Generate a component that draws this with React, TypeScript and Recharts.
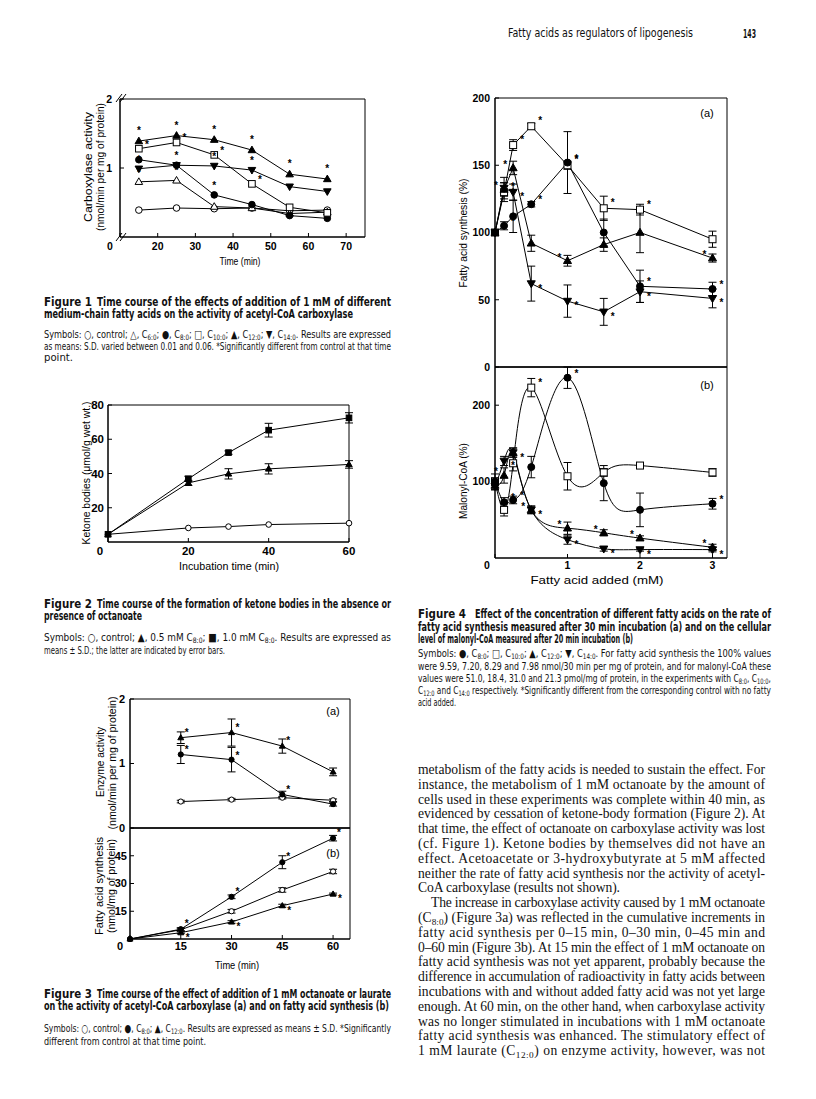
import React from "react";
import { LineChart, Line, XAxis, YAxis, ReferenceArea, ErrorBar } from "recharts";

// Figure 1: carboxylase activity vs time
const f1Time = [15, 25, 35, 45, 55, 65];
const f1Control = [0.39, 0.42, 0.41, 0.42, 0.38, 0.39];
const f1C6 = [0.8, 0.82, 0.44, 0.42, 0.34, 0.36];
const f1C8 = [1.12, 1.04, 0.61, 0.47, 0.31, 0.27];
const f1C10 = [1.28, 1.37, 1.19, 0.77, 0.43, 0.35];
const f1C12 = [1.39, 1.47, 1.41, 1.26, 0.91, 0.84];
const f1C14 = [0.99, 1.04, 1.03, 0.97, 0.73, 0.66];
const f1C6Sig = [1, 1, 0, 0, 0, 0];
const f1C8Sig = [1, 1, 1, 0, 0, 0];
const f1C10Sig = [1, 1, 1, 1, 0, 0];
const f1C12Sig = [1, 1, 1, 1, 1, 1];
const f1C14Sig = [1, 0, 1, 1, 1, 1];

// Figure 2: ketone bodies
const f2Time = [0, 20, 30, 40, 60];
const f2Control = [4.5, 8.2, 9.0, 10.2, 11.0];
const f2Half = [4.5, 34.5, 39.8, 42.7, 45.3];
const f2HalfErr = [0, 1.5, 3, 3, 2.2];
const f2Full = [4.5, 36.9, 52.2, 65.3, 72.5];
const f2FullErr = [0, 1.5, 1, 4, 3];

// Figure 3a: enzyme activity
const f3Time = [15, 30, 45, 60];
const f3aControl = [0.41, 0.44, 0.47, 0.43];
const f3aControlErr = [0.02, 0.02, 0.02, 0.02];
const f3aC8 = [1.14, 1.06, 0.52, 0.37];
const f3aC8Err = [0.14, 0.19, 0.05, 0.03];
const f3aC12 = [1.4, 1.48, 1.27, 0.87];
const f3aC12Err = [0.09, 0.21, 0.11, 0.06];
const f3aC8Sig = [1, 1, 1, 0];
const f3aC12Sig = [1, 1, 1, 0];

// Figure 3b: fatty acid synthesis
const f3bTime = [0, 15, 30, 45, 60];
const f3bControl = [0, 5.0, 15.0, 26.5, 36.5];
const f3bControlErr = [0, 0.8, 1, 1.2, 1.2];
const f3bC8 = [0, 5.3, 22.8, 41.5, 54.5];
const f3bC8Err = [0, 0.8, 1, 3.5, 1.5];
const f3bC12 = [0, 3.4, 9.2, 18.0, 24.3];
const f3bC12Err = [0, 0.5, 0.7, 0.8, 0.5];
const f3bC8Sig = [0, 1, 1, 1, 1];
const f3bC12Sig = [0, 1, 1, 1, 1];

// Figure 4: concentration (mM)
const f4Conc = [0, 0.125, 0.25, 0.5, 1, 1.5, 2, 3];
const f4aC8 = [100, 105, 112, 121, 152, 100, 60, 58];
const f4aC10 = [100, 130, 165, 179, 150, 118, 117, 95];
const f4aC12 = [100, 132, 148, 92, 79, 91, 100, 81];
const f4aC14 = [100, 133, 130, 62, 49, 41, 56, 51];
const f4aC8Err = [0, 3, 12, 2, 23, 10, 12, 5];
const f4aC10Err = [0, 7, 4, 2, 3, 9, 4, 6];
const f4aC12Err = [0, 5, 5, 6, 4, 5, 15, 3];
const f4aC14Err = [0, 8, 6, 13, 12, 10, 8, 7];
const f4aC8Sig = [0, 1, 0, 1, 1, 0, 1, 1];
const f4aC10Sig = [0, 1, 1, 1, 1, 1, 1, 0];
const f4aC12Sig = [0, 1, 1, 0, 1, 0, 0, 1];
const f4aC14Sig = [0, 1, 1, 1, 1, 1, 1, 1];

const f4bC8 = [100, 73, 76, 119, 236, 98, 63, 71];
const f4bC10 = [100, 63, 124, 223, 107, 112, 121, 112];
const f4bC12 = [95, 108, 138, 63, 39, 33, 26, 14];
const f4bC14 = [94, 127, 138, 63, 24, 12, 11, 11];
const f4bC8Err = [10, 6, 5, 14, 14, 23, 22, 7];
const f4bC10Err = [5, 8, 10, 12, 18, 5, 3, 5];
const f4bC12Err = [5, 10, 6, 5, 8, 4, 3, 4];
const f4bC14Err = [5, 6, 6, 5, 6, 3, 2, 3];
const f4bC8Sig = [0, 1, 1, 0, 1, 0, 0, 1];
const f4bC10Sig = [0, 1, 0, 1, 0, 0, 0, 0];
const f4bC12Sig = [0, 1, 0, 1, 1, 1, 1, 1];
const f4bC14Sig = [0, 1, 1, 1, 1, 1, 1, 1];

const SANS = "'Liberation Sans', Arial, sans-serif";
const NARROW = "'Liberation Sans Narrow', 'DejaVu Sans Condensed', 'Liberation Sans', sans-serif";
const SERIF = "'Liberation Serif', 'Times New Roman', serif";

const rows = (xs: number[], cols: Record<string, number[]>) =>
  xs.map((x, i) => {
    const o: Record<string, number> = { x };
    Object.keys(cols).forEach((k) => {
      o[k] = cols[k][i];
    });
    return o;
  });

type Kind = "circleOpen" | "circle" | "square" | "squareFilled" | "tri" | "triOpen" | "triDown";

function Marker({ kind, cx, cy, r }: { kind: Kind; cx: number; cy: number; r: number }) {
  const open = kind === "circleOpen" || kind === "square" || kind === "triOpen";
  const fill = open ? "#fff" : "#000";
  const common = { fill, stroke: "#000", strokeWidth: 1 };
  if (kind === "circle" || kind === "circleOpen") return <circle cx={cx} cy={cy} r={r} {...common} />;
  if (kind === "square" || kind === "squareFilled")
    return <rect x={cx - r} y={cy - r} width={2 * r} height={2 * r} {...common} />;
  if (kind === "triDown")
    return <polygon points={`${cx - r * 1.15},${cy - r * 0.8} ${cx + r * 1.15},${cy - r * 0.8} ${cx},${cy + r * 1.2}`} {...common} />;
  return <polygon points={`${cx},${cy - r * 1.2} ${cx - r * 1.15},${cy + r * 0.8} ${cx + r * 1.15},${cy + r * 0.8}`} {...common} />;
}

type Series = { key: string; kind: Kind; err?: string; sig?: string; star?: [number, number] };

const makeDot = (s: Series, r: number) => (p: any) => {
  const { cx, cy, payload, index } = p;
  if (cx == null || cy == null) return <g key={`${s.key}-${index}`} />;
  const st = s.sig && payload[s.sig] && s.star;
  return (
    <g key={`${s.key}-${index}`}>
      <Marker kind={s.kind} cx={cx} cy={cy} r={r} />
      {st ? (
        <text x={cx + st[0]} y={cy + st[1] + 4} fontSize={10} fontFamily={SANS} fontWeight={700} textAnchor="middle" fill="#000">
          *
        </text>
      ) : null}
    </g>
  );
};

const YW = 40;
const XH = 26;
const MT = 12;
const MR = 16;

type PanelProps = {
  plot: [number, number, number, number];
  data: Record<string, number>[];
  xDomain: [number, number];
  xTicks: number[];
  yDomain: [number, number];
  yTicks: number[];
  series: Series[];
  r: number;
  font: number;
  zeroShift?: number;
  xGap?: number;
  yGap?: number;
  hideX?: boolean;
  curve?: "linear" | "natural";
};

function Panel({ plot, data, xDomain, xTicks, yDomain, yTicks, series, r, font, zeroShift = 8, xGap = 4, yGap = 6, hideX, curve = "linear" }: PanelProps) {
  const [px, py, pw, ph] = plot;
  const xTick = (p: any) => {
    const v = p.payload.value;
    const first = v === xDomain[0];
    return (
      <text x={p.x - (first ? zeroShift : 0)} y={MT + ph + xGap} dy="0.71em" textAnchor="middle" fontSize={font} fontWeight={700} fontFamily={SANS} fill="#000">
        {first ? 0 : v}
      </text>
    );
  };
  const yTick = (p: any) => (
    <text x={YW - yGap} y={p.y} dy="0.36em" textAnchor="end" fontSize={font} fontWeight={700} fontFamily={SANS} fill="#000">
      {p.payload.value}
    </text>
  );
  return (
    <div style={{ position: "absolute", left: px - YW, top: py - MT }}>
      <LineChart width={pw + YW + MR} height={ph + MT + XH} data={data} margin={{ top: MT, right: MR, bottom: 0, left: 0 }}>
        <XAxis
          type="number"
          dataKey="x"
          domain={xDomain}
          ticks={xTicks}
          interval={0}
          height={XH}
          axisLine={{ stroke: "#000" }}
          tickLine={{ stroke: "#000" }}
          tickSize={-4}
          tick={hideX ? false : xTick}
        />
        <YAxis
          type="number"
          domain={yDomain}
          ticks={yTicks}
          interval={0}
          width={YW}
          axisLine={{ stroke: "#000" }}
          tickLine={{ stroke: "#000" }}
          tickSize={-4}
          tick={yTick}
        />
        <ReferenceArea x1={xDomain[0]} x2={xDomain[1]} y1={yDomain[0]} y2={yDomain[1]} fill="none" fillOpacity={0} stroke="#000" strokeWidth={1} />
        {series.map((s) => (
          <Line
            key={s.key}
            type={curve}
            dataKey={s.key}
            stroke="#000"
            strokeWidth={1}
            isAnimationActive={false}
            dot={makeDot(s, r)}
            activeDot={false}
          >
            {s.err ? <ErrorBar dataKey={s.err} width={4} stroke="#000" strokeWidth={1} direction="y" /> : null}
          </Line>
        ))}
      </LineChart>
    </div>
  );
}

type Part = string | { sub: string };
const S = (t: string): Part => ({ sub: t });

function Rich({ parts, size }: { parts: Part[]; size: number }) {
  let shifted = false;
  return (
    <>
      {parts.map((p, i) => {
        if (typeof p === "string") {
          const el = (
            <tspan key={i} dy={shifted ? -size * 0.22 : undefined}>
              {p}
            </tspan>
          );
          shifted = false;
          return el;
        }
        shifted = true;
        return (
          <tspan key={i} dy={size * 0.22} fontSize={size * 0.68}>
            {p.sub}
          </tspan>
        );
      })}
    </>
  );
}

type RowProps = { x: number; y: number; w?: number; size: number; weight?: number; family?: string; adjust?: string; parts: Part[] };
function TextRow({ x, y, w, size, weight = 400, family = NARROW, adjust = "spacingAndGlyphs", parts }: RowProps) {
  return (
    <text x={x} y={y} fontSize={size} fontWeight={weight} fontFamily={family} textLength={w} lengthAdjust={w ? adjust : undefined} fill="#111">
      <Rich parts={parts} size={size} />
    </text>
  );
}

function VTitle({ x, cy, w, size, text }: { x: number; cy: number; w: number; size: number; text: string }) {
  return (
    <text transform={`rotate(-90 ${x} ${cy})`} x={x} y={cy} textAnchor="middle" dominantBaseline="central" fontSize={size} fontFamily={SANS} textLength={w} lengthAdjust="spacingAndGlyphs" fill="#000">
      {text}
    </text>
  );
}

function HTitle({ cx, y, w, size, text }: { cx: number; y: number; w: number; size: number; text: string }) {
  return (
    <text x={cx} y={y} textAnchor="middle" fontSize={size} fontFamily={SANS} textLength={w} lengthAdjust="spacingAndGlyphs" fill="#000">
      {text}
    </text>
  );
}

const bodyLines: { parts: Part[]; x?: number; w?: number }[] = [
  { parts: ["metabolism of the fatty acids is needed to sustain the effect. For"] },
  { parts: ["instance, the metabolism of 1 mM octanoate by the amount of"] },
  { parts: ["cells used in these experiments was complete within 40 min, as"] },
  { parts: ["evidenced by cessation of ketone-body formation (Figure 2). At"] },
  { parts: ["that time, the effect of octanoate on carboxylase activity was lost"] },
  { parts: ["(cf. Figure 1). Ketone bodies by themselves did not have an"] },
  { parts: ["effect. Acetoacetate or 3-hydroxybutyrate at 5 mM affected"] },
  { parts: ["neither the rate of fatty acid synthesis nor the activity of acetyl-"] },
  { parts: ["CoA carboxylase (results not shown)."], w: 202 },
  { parts: ["The increase in carboxylase activity caused by 1 mM octanoate"], x: 431, w: 334 },
  { parts: ["(C", S("8:0"), ") (Figure 3a) was reflected in the cumulative increments in"] },
  { parts: ["fatty acid synthesis per 0\u201315 min, 0\u201330 min, 0\u201345 min and"] },
  { parts: ["0\u201360 min (Figure 3b). At 15 min the effect of 1 mM octanoate on"] },
  { parts: ["fatty acid synthesis was not yet apparent, probably because the"] },
  { parts: ["difference in accumulation of radioactivity in fatty acids between"] },
  { parts: ["incubations with and without added fatty acid was not yet large"] },
  { parts: ["enough. At 60 min, on the other hand, when carboxylase activity"] },
  { parts: ["was no longer stimulated in incubations with 1 mM octanoate"] },
  { parts: ["fatty acid synthesis was enhanced. The stimulatory effect of"] },
  { parts: ["1 mM laurate (C", S("12:0"), ") on enzyme activity, however, was not"] },
];

export default function App() {
  const f1Data = rows(f1Time, {
    control: f1Control, c6: f1C6, c8: f1C8, c10: f1C10, c12: f1C12, c14: f1C14,
    c6Sig: f1C6Sig, c8Sig: f1C8Sig, c10Sig: f1C10Sig, c12Sig: f1C12Sig, c14Sig: f1C14Sig,
  });
  const f2Data = rows(f2Time, { control: f2Control, half: f2Half, halfErr: f2HalfErr, full: f2Full, fullErr: f2FullErr });
  const f3aData = rows(f3Time, {
    control: f3aControl, controlErr: f3aControlErr, c8: f3aC8, c8Err: f3aC8Err, c12: f3aC12, c12Err: f3aC12Err,
    c8Sig: f3aC8Sig, c12Sig: f3aC12Sig,
  });
  const f3bData = rows(f3bTime, {
    control: f3bControl, controlErr: f3bControlErr, c8: f3bC8, c8Err: f3bC8Err, c12: f3bC12, c12Err: f3bC12Err,
    c8Sig: f3bC8Sig, c12Sig: f3bC12Sig,
  });
  const f4aData = rows(f4Conc, {
    c8: f4aC8, c10: f4aC10, c12: f4aC12, c14: f4aC14,
    c8Err: f4aC8Err, c10Err: f4aC10Err, c12Err: f4aC12Err, c14Err: f4aC14Err,
    c8Sig: f4aC8Sig, c10Sig: f4aC10Sig, c12Sig: f4aC12Sig, c14Sig: f4aC14Sig,
  });
  const f4bData = rows(f4Conc, {
    c8: f4bC8, c10: f4bC10, c12: f4bC12, c14: f4bC14,
    c8Err: f4bC8Err, c10Err: f4bC10Err, c12Err: f4bC12Err, c14Err: f4bC14Err,
    c8Sig: f4bC8Sig, c10Sig: f4bC10Sig, c12Sig: f4bC12Sig, c14Sig: f4bC14Sig,
  });

  const f1Series: Series[] = [
    { key: "control", kind: "circleOpen" },
    { key: "c6", kind: "triOpen", sig: "c6Sig", star: [0, -10] },
    { key: "c8", kind: "circle", sig: "c8Sig", star: [0, -10] },
    { key: "c10", kind: "square", sig: "c10Sig", star: [8, -5] },
    { key: "c14", kind: "triDown", sig: "c14Sig", star: [0, -10] },
    { key: "c12", kind: "tri", sig: "c12Sig", star: [0, -11] },
  ];
  const f2Series: Series[] = [
    { key: "control", kind: "circleOpen" },
    { key: "half", kind: "tri", err: "halfErr" },
    { key: "full", kind: "squareFilled", err: "fullErr" },
  ];
  const f3Series: Series[] = [
    { key: "control", kind: "circleOpen", err: "controlErr" },
    { key: "c8", kind: "circle", err: "c8Err", sig: "c8Sig", star: [6, -5] },
    { key: "c12", kind: "tri", err: "c12Err", sig: "c12Sig", star: [6, -6] },
  ];
  const f3bSeries: Series[] = [
    { key: "control", kind: "circleOpen", err: "controlErr" },
    { key: "c8", kind: "circle", err: "c8Err", sig: "c8Sig", star: [6, -6] },
    { key: "c12", kind: "tri", err: "c12Err", sig: "c12Sig", star: [7, 4] },
  ];
  const f4Series: Series[] = [
    { key: "c10", kind: "square", err: "c10Err", sig: "c10Sig", star: [9, -6] },
    { key: "c8", kind: "circle", err: "c8Err", sig: "c8Sig", star: [9, -5] },
    { key: "c12", kind: "tri", err: "c12Err", sig: "c12Sig", star: [-8, -4] },
    { key: "c14", kind: "triDown", err: "c14Err", sig: "c14Sig", star: [9, 4] },
  ];

  return (
    <div style={{ position: "absolute", left: 0, top: 0, width: 816, height: 1099, background: "#fff", overflow: "hidden" }}>
      <Panel plot={[120, 99, 245, 138]} data={f1Data} xDomain={[10, 75]} xTicks={[10, 20, 30, 40, 50, 60, 70]} yDomain={[0, 2]} yTicks={[1, 2]} series={f1Series} r={3.3} font={10.5} zeroShift={10} xGap={6} yGap={8} />
      <Panel plot={[108, 405, 241, 137]} data={f2Data} xDomain={[0, 60]} xTicks={[0, 20, 40, 60]} yDomain={[0, 80]} yTicks={[20, 40, 60, 80]} series={f2Series} r={2.8} font={11.5} zeroShift={8} xGap={5} yGap={4} />
      <Panel plot={[130, 699, 220, 129]} data={f3aData} xDomain={[0, 65]} xTicks={[15, 30, 45, 60]} yDomain={[0, 2]} yTicks={[0, 1, 2]} series={f3Series} r={2.6} font={11} hideX yGap={5} />
      <Panel plot={[130, 828, 220, 111]} data={f3bData} xDomain={[0, 65]} xTicks={[0, 15, 30, 45, 60]} yDomain={[0, 60]} yTicks={[15, 30, 45]} series={f3bSeries} r={2.6} font={11} zeroShift={10} xGap={3} yGap={3} />
      <Panel plot={[495, 98, 232, 269]} data={f4aData} xDomain={[0, 3.2]} xTicks={[1, 2, 3]} yDomain={[0, 200]} yTicks={[0, 50, 100, 150, 200]} series={f4Series} r={3.5} font={10.5} hideX yGap={5} />
      <Panel plot={[495, 367, 232, 191]} data={f4bData} xDomain={[0, 3.2]} xTicks={[0, 1, 2, 3]} yDomain={[0, 250]} yTicks={[100, 200]} series={f4Series} r={3.5} font={10.5} zeroShift={8} xGap={4} yGap={5} curve="natural" />

      <svg width={816} height={1099} style={{ position: "absolute", left: 0, top: 0, pointerEvents: "none" }}>
        {/* running head */}
        <TextRow x={508} y={37} w={185} size={12.5} parts={["Fatty acids as regulators of lipogenesis"]} />
        <TextRow x={743} y={37.5} w={13} size={13} weight={700} parts={["143"]} />

        {/* figure 1 axis decorations */}
        <line x1={116} y1={102} x2={122} y2={94} stroke="#000" />
        <line x1={120} y1={102} x2={126} y2={94} stroke="#000" />
        <line x1={116} y1={241} x2={122} y2={233} stroke="#000" />
        <line x1={120} y1={241} x2={126} y2={233} stroke="#000" />
        <VTitle x={88} cy={167} w={110} size={10.5} text="Carboxylase activity" />
        <VTitle x={100} cy={167} w={128} size={10.5} text="(nmol/min per mg of protein)" />
        <HTitle cx={240} y={265} w={41} size={10.5} text="Time (min)" />

        <TextRow x={44} y={306} w={48} size={12.5} weight={700} parts={["Figure 1"]} />
        <TextRow x={97} y={306} w={294} size={12.5} weight={700} parts={["Time course of the effects of addition of 1 mM of different"]} />
        <TextRow x={44} y={318} w={309} size={12.5} weight={700} parts={["medium-chain fatty acids on the activity of acetyl-CoA carboxylase"]} />
        <TextRow x={44} y={338} w={347} size={11} parts={["Symbols: \u25CB, control; \u25B3, C", S("6:0"), "; \u25CF, C", S("8:0"), "; \u25A1, C", S("10:0"), "; \u25B2, C", S("12:0"), "; \u25BC, C", S("14:0"), ". Results are expressed"]} />
        <TextRow x={44} y={349.5} w={347} size={11} parts={["as means: S.D. varied between 0.01 and 0.06. *Significantly different from control at that time"]} />
        <TextRow x={44} y={361} w={29} size={11} parts={["point."]} />

        {/* figure 2 */}
        <VTitle x={86} cy={473} w={143} size={11.5} text={"Ketone bodies (\u03BCmol/g wet wt.)"} />
        <HTitle cx={229} y={570} w={100} size={11.5} text="Incubation time (min)" />
        <TextRow x={44} y={607.5} w={48} size={12.5} weight={700} parts={["Figure 2"]} />
        <TextRow x={97} y={607.5} w={294} size={12.5} weight={700} parts={["Time course of the formation of ketone bodies in the absence or"]} />
        <TextRow x={44} y={619.5} w={98} size={12.5} weight={700} parts={["presence of octanoate"]} />
        <TextRow x={44} y={641} w={347} size={11} parts={["Symbols: \u25CB, control; \u25B2, 0.5 mM C", S("8:0"), "; \u25A0, 1.0 mM C", S("8:0"), ". Results are expressed as"]} />
        <TextRow x={44} y={653.5} w={181} size={11} parts={["means \u00B1 S.D.; the latter are indicated by error bars."]} />

        {/* figure 3 */}
        <VTitle x={100} cy={762} w={70} size={11} text="Enzyme activity" />
        <VTitle x={112} cy={763} w={133} size={11} text="(nmol/min per mg of protein)" />
        <VTitle x={99} cy={886} w={98} size={11} text="Fatty acid synthesis" />
        <VTitle x={111} cy={886} w={94} size={11} text="(nmol/mg of protein)" />
        <text x={333} y={715} fontSize={11} fontFamily={SANS} textAnchor="middle" fill="#000">(a)</text>
        <text x={333} y={857} fontSize={11} fontFamily={SANS} textAnchor="middle" fill="#000">(b)</text>
        <HTitle cx={237} y={969} w={44} size={11} text="Time (min)" />
        <TextRow x={44} y={997.5} w={48} size={12.5} weight={700} parts={["Figure 3"]} />
        <TextRow x={97} y={997.5} w={294} size={12.5} weight={700} parts={["Time course of the effect of addition of 1 mM octanoate or laurate"]} />
        <TextRow x={44} y={1010} w={345} size={12.5} weight={700} parts={["on the activity of acetyl-CoA carboxylase (a) and on fatty acid synthesis (b)"]} />
        <TextRow x={44} y={1032} w={347} size={11} parts={["Symbols: \u25CB, control; \u25CF, C", S("8:0"), "; \u25B2, C", S("12:0"), ". Results are expressed as means \u00B1 S.D. *Significantly"]} />
        <TextRow x={44} y={1044.5} w={162} size={11} parts={["different from control at that time point."]} />

        {/* figure 4 */}
        <VTitle x={463} cy={233} w={109} size={10.5} text="Fatty acid synthesis (%)" />
        <VTitle x={463} cy={481} w={76} size={10.5} text="Malonyl-CoA (%)" />
        <HTitle cx={597} y={584} w={133} size={10.5} text="Fatty acid added (mM)" />
        <text x={707} y={117} fontSize={11} fontFamily={SANS} textAnchor="middle" fill="#000">(a)</text>
        <text x={707} y={389} fontSize={11} fontFamily={SANS} textAnchor="middle" fill="#000">(b)</text>
        <TextRow x={418} y={617.5} w={48} size={12.5} weight={700} parts={["Figure 4"]} />
        <TextRow x={475} y={617.5} w={296} size={12.5} weight={700} parts={["Effect of the concentration of different fatty acids on the rate of"]} />
        <TextRow x={418} y={630.5} w={353} size={12.5} weight={700} parts={["fatty acid synthesis measured after 30 min incubation (a) and on the cellular"]} />
        <TextRow x={418} y={643} w={215} size={12.5} weight={700} parts={["level of malonyl-CoA measured after 20 min incubation (b)"]} />
        <TextRow x={418} y={657} w={353} size={11} parts={["Symbols: \u25CF, C", S("8:0"), "; \u25A1, C", S("10:0"), "; \u25B2, C", S("12:0"), "; \u25BC, C", S("14:0"), ". For fatty acid synthesis the 100% values"]} />
        <TextRow x={418} y={669.5} w={353} size={11} parts={["were 9.59, 7.20, 8.29 and 7.98 nmol/30 min per mg of protein, and for malonyl-CoA these"]} />
        <TextRow x={418} y={682} w={353} size={11} parts={["values were 51.0, 18.4, 31.0 and 21.3 pmol/mg of protein, in the experiments with C", S("8:0"), ", C", S("10:0"), ","]} />
        <TextRow x={418} y={694} w={353} size={11} parts={["C", S("12:0"), " and C", S("14:0"), " respectively. *Significantly different from the corresponding control with no fatty"]} />
        <TextRow x={418} y={706} w={38} size={11} parts={["acid added."]} />

        {/* body text */}
        {bodyLines.map((l, i) => (
          <TextRow key={i} x={l.x ?? 418} y={774 + i * 14.8} w={l.w ?? 347} size={13.6} family={SERIF} adjust="spacing" parts={l.parts} />
        ))}
      </svg>
    </div>
  );
}
